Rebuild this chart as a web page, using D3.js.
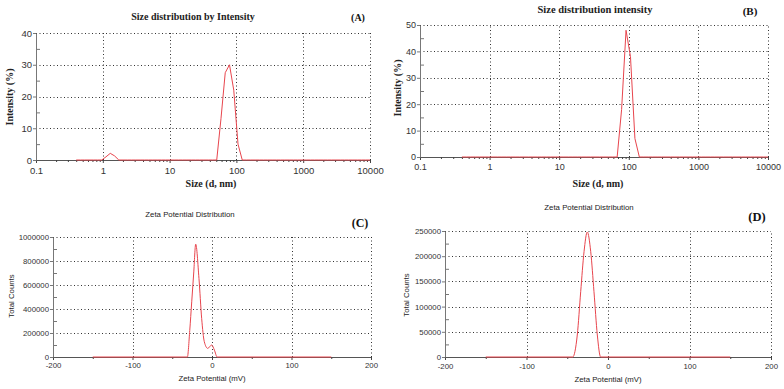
<!DOCTYPE html>
<html>
<head>
<meta charset="utf-8">
<script src="https://cdn.jsdelivr.net/npm/d3@7"></script>
<style>
  body { margin: 0; background: #fff; }
  svg { display: block; }
</style>
</head>
<body>
<svg id="chart" width="784" height="389"></svg>
<script>
// size classes (d, nm) shared by both DLS runs
var sizeBins = [
  0.4, 0.4632, 0.5365, 0.6213, 0.7195, 0.8332, 0.9649, 1.117, 1.294, 1.499,
  1.736, 2.01, 2.328, 2.696, 3.122, 3.615, 4.187, 4.849, 5.615, 6.503,
  7.531, 8.721, 10.1, 11.7, 13.54, 15.69, 18.17, 21.04, 24.36, 28.21,
  32.67, 37.84, 43.82, 50.75, 58.77, 68.06, 78.82, 91.28, 105.7, 122.4,
  141.8, 164.2, 190.1, 220.2, 255, 295.3, 342, 396.1, 458.7, 531.2,
  615.1, 712.4, 825, 955.4, 1106, 1281, 1484, 1718, 1990, 2305,
  2669, 3091, 3580, 4145, 4801, 5560, 6439, 7456, 8635, 10000
];
// intensity (%) panel A
var intensityA = [
  0, 0, 0, 0, 0, 0, 0, 1.0, 2.1, 1.3,
  0, 0, 0, 0, 0, 0, 0, 0, 0, 0,
  0, 0, 0, 0, 0, 0, 0, 0, 0, 0,
  0, 0, 0, 0, 13, 27.5, 30, 22, 5, 0,
  0, 0, 0, 0, 0, 0, 0, 0, 0, 0,
  0, 0, 0, 0, 0, 0, 0, 0, 0, 0,
  0, 0, 0, 0, 0, 0, 0, 0, 0, 0
];
// intensity (%) panel B
var intensityB = [
  0, 0, 0, 0, 0, 0, 0, 0, 0, 0,
  0, 0, 0, 0, 0, 0, 0, 0, 0, 0,
  0, 0, 0, 0, 0, 0, 0, 0, 0, 0,
  0, 0, 0, 0, 0, 0, 18, 48, 38, 7,
  0, 0, 0, 0, 0, 0, 0, 0, 0, 0,
  0, 0, 0, 0, 0, 0, 0, 0, 0, 0,
  0, 0, 0, 0, 0, 0, 0, 0, 0, 0
];

// zeta potential (mV) vs total counts
var zetaC_mV     = [-150, -31, -28, -25.5, -23, -20.5, -16.4, -13, -9.7, -5.4, -0.4, 3, 6.5, 150];
var zetaC_counts = [0, 0, 220000, 460000, 700000, 940000, 655000, 322000, 128000, 72000, 100000, 58000, 0, 0];
var zetaD_mV     = [-150, -43.3, -37.7, -33.5, -29.4, -25.4, -21.2, -17.2, -13.1, -9, 150];
var zetaD_counts = [0, 0, 43650, 129600, 209000, 248000, 209000, 129600, 43650, 0, 0];

// tick labels
var sizeTicks = [0.1, 1, 10, 100, 1000, 10000];
var sizeTickLabels = ["0.1", "1", "10", "100", "1000", "10000"];
var intensTicksA = [0, 10, 20, 30, 40];
var intensTicksB = [0, 10, 20, 30, 40, 50];
var zetaTicks = [-200, -100, 0, 100, 200];
var zetaMinor = [-150, -50, 50, 150];
var countTicksC = [0, 200000, 400000, 600000, 800000, 1000000];
var countTicksD = [0, 50000, 100000, 150000, 200000, 250000];

var svg = d3.select('#chart');
var SERIF = "'Liberation Serif', 'Times New Roman', serif";
var SANS = "'Liberation Sans', Arial, sans-serif";
var RED = "#e8454d";

function minorLog(){
  var m = [];
  [0.1, 1, 10, 100, 1000].forEach(function(d){
    for (var k = 2; k < 10; k++) m.push(d * k);
  });
  return m;
}

function drawPanel(p) {
  var g = svg.append('g');
  var x = p.x, y = p.y;
  var x0 = x.range()[0], x1 = x.range()[1];
  var yb = y.range()[0], yt = y.range()[1];

  // dotted grid, top and right edge included
  g.selectAll('.vg').data(p.xTicks.slice(1)).enter().append('line')
    .attr('x1', function(d){return Math.round(x(d)) + 0.5;})
    .attr('x2', function(d){return Math.round(x(d)) + 0.5;})
    .attr('y1', yb).attr('y2', yt)
    .attr('stroke', '#333').attr('stroke-dasharray', '1,2.5');
  g.selectAll('.hg').data(p.yTicks.slice(1)).enter().append('line')
    .attr('x1', x0).attr('x2', x1)
    .attr('y1', function(d){return Math.round(y(d)) + 0.5;})
    .attr('y2', function(d){return Math.round(y(d)) + 0.5;})
    .attr('stroke', '#333').attr('stroke-dasharray', '1,2.5');

  // x axis
  var xa = g.append('g').attr('transform', 'translate(0,' + yb + ')')
    .call(d3.axisBottom(x).tickValues(p.xTicks).tickFormat(function(d, i){return p.xLabels[i];})
      .tickSizeInner(3).tickSizeOuter(0).tickPadding(p.xPad));
  xa.select('.domain').attr('stroke', '#555');
  xa.selectAll('line').attr('stroke', '#444');
  xa.selectAll('text').attr('fill', '#333').style('font-family', SANS).style('font-size', p.tickFont + 'px');
  var xm = g.append('g').attr('transform', 'translate(0,' + yb + ')')
    .call(d3.axisBottom(x).tickValues(p.xMinor).tickFormat('').tickSizeInner(2).tickSizeOuter(0));
  xm.select('.domain').remove();
  xm.selectAll('line').attr('stroke', '#444');

  // y axis
  var ya = g.append('g').attr('transform', 'translate(' + x0 + ',0)')
    .call(d3.axisLeft(y).tickValues(p.yTicks).tickFormat(d3.format('d'))
      .tickSizeInner(3).tickSizeOuter(0).tickPadding(1));
  ya.select('.domain').attr('stroke', '#777');
  ya.selectAll('line').attr('stroke', '#777');
  ya.selectAll('text').attr('fill', '#333').style('font-family', SANS).style('font-size', p.tickFont + 'px');
  var yMinor = [];
  for (var i = 0; i < p.yTicks.length - 1; i++) yMinor.push((p.yTicks[i] + p.yTicks[i + 1]) / 2);
  var ym = g.append('g').attr('transform', 'translate(' + x0 + ',0)')
    .call(d3.axisRight(y).tickValues(yMinor).tickFormat('').tickSizeInner(4).tickSizeOuter(0));
  ym.select('.domain').remove();
  ym.selectAll('line').attr('stroke', '#777');

  // data line
  var line = d3.line().x(function(d){return x(d[0]);}).y(function(d){return y(d[1]);});
  if (p.curve) line.curve(p.curve);
  g.append('path').datum(p.data)
    .attr('d', line).attr('fill', 'none')
    .attr('stroke', RED).attr('stroke-width', 1);

  // texts
  g.append('text').attr('x', p.title[1]).attr('y', p.title[2]).attr('text-anchor', 'middle')
    .style('font-family', p.titleFont).style('font-weight', p.titleWeight).style('font-size', p.titleSize + 'px')
    .attr('fill', '#222').text(p.title[0]);
  g.append('text').attr('x', p.tag[1]).attr('y', p.tag[2]).attr('text-anchor', 'middle')
    .style('font-family', SERIF).style('font-weight', 'bold').style('font-size', p.tag[3] + 'px')
    .attr('fill', '#111').text(p.tag[0]);
  g.append('text').attr('x', p.xLabel[1]).attr('y', p.xLabel[2]).attr('text-anchor', 'middle')
    .style('font-family', p.labelFont).style('font-weight', p.titleWeight).style('font-size', p.labelSize + 'px')
    .attr('fill', '#222').text(p.xLabel[0]);
  g.append('text').attr('transform', 'translate(' + p.yLabel[1] + ',' + p.yLabel[2] + ') rotate(-90)')
    .attr('text-anchor', 'middle')
    .style('font-family', p.labelFont).style('font-weight', p.titleWeight).style('font-size', p.labelSize + 'px')
    .attr('fill', '#222').text(p.yLabel[0]);
}

var pairs = function(a, b){ return a.map(function(v, i){ return [v, b[i]]; }); };

// (A)
drawPanel({
  x: d3.scaleLog().domain([0.1, 10000]).range([36, 370]),
  y: d3.scaleLinear().domain([0, 40]).range([160, 33]),
  xTicks: sizeTicks, xLabels: sizeTickLabels, xMinor: minorLog(), xPad: 4,
  yTicks: intensTicksA, tickFont: 9.5,
  data: pairs(sizeBins, intensityA),
  title: ['Size distribution by Intensity', 193, 20], titleFont: SERIF, titleWeight: 'bold', titleSize: 10,
  tag: ['(A)', 358, 21, 10],
  xLabel: ['Size (d, nm)', 211, 187], yLabel: ['Intensity (%)', 13, 97], labelFont: SERIF, labelSize: 10
});

// (B)
drawPanel({
  x: d3.scaleLog().domain([0.1, 10000]).range([420, 768]),
  y: d3.scaleLinear().domain([0, 50]).range([157, 25]),
  xTicks: sizeTicks, xLabels: sizeTickLabels, xMinor: minorLog(), xPad: 4,
  yTicks: intensTicksB, tickFont: 9,
  data: pairs(sizeBins, intensityB),
  title: ['Size distribution intensity', 595, 13], titleFont: SERIF, titleWeight: 'bold', titleSize: 10.5,
  tag: ['(B)', 750, 15, 11],
  xLabel: ['Size (d, nm)', 598, 187], yLabel: ['Intensity (%)', 401, 88], labelFont: SERIF, labelSize: 10
});

// (C)
drawPanel({
  x: d3.scaleLinear().domain([-200, 200]).range([53, 371]),
  y: d3.scaleLinear().domain([0, 1000000]).range([357, 237]),
  xTicks: zetaTicks, xLabels: zetaTicks.map(String), xMinor: zetaMinor, xPad: 2,
  yTicks: countTicksC, tickFont: 7.8,
  data: pairs(zetaC_mV, zetaC_counts), curve: d3.curveMonotoneX,
  title: ['Zeta Potential Distribution', 190, 217], titleFont: SANS, titleWeight: 'normal', titleSize: 7.8,
  tag: ['(C)', 360, 227, 12],
  xLabel: ['Zeta Potential (mV)', 212, 381], yLabel: ['Total Counts', 14, 296], labelFont: SANS, labelSize: 7.8
});

// (D)
drawPanel({
  x: d3.scaleLinear().domain([-200, 200]).range([445, 771]),
  y: d3.scaleLinear().domain([0, 250000]).range([357, 231]),
  xTicks: zetaTicks, xLabels: zetaTicks.map(String), xMinor: zetaMinor, xPad: 3,
  yTicks: countTicksD, tickFont: 7.8,
  data: pairs(zetaD_mV, zetaD_counts), curve: d3.curveMonotoneX,
  title: ['Zeta Potential Distribution', 589, 210], titleFont: SANS, titleWeight: 'normal', titleSize: 7.8,
  tag: ['(D)', 757, 221, 12.5],
  xLabel: ['Zeta Potential (mV)', 608, 382], yLabel: ['Total Counts', 409, 295], labelFont: SANS, labelSize: 7.8
});
</script>
</body>
</html>
